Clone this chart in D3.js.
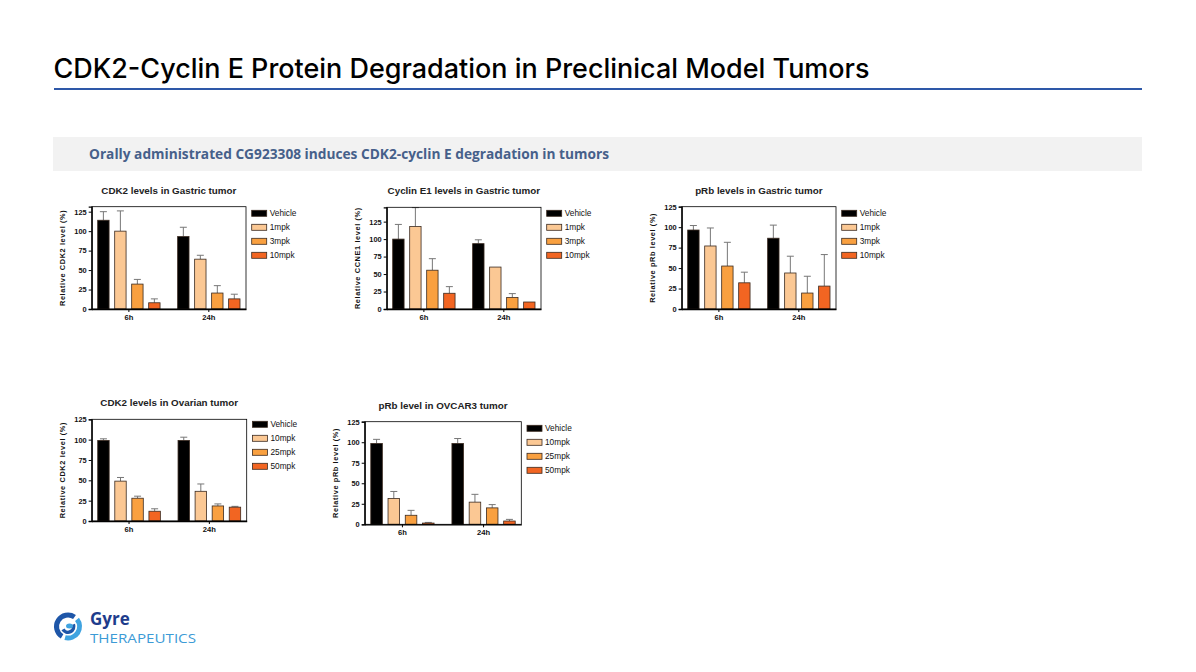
<!DOCTYPE html>
<html>
<head>
<meta charset="utf-8">
<script src="https://cdn.jsdelivr.net/npm/d3@7"></script>
<style>
  body { margin: 0; background: #fff; }
  svg { display: block; }
</style>
</head>
<body>
<div id="slide"></div>
<script>
// groups and doses
var groups = ["6h", "24h"];
var gastricDoses = ["Vehicle", "1mpk", "3mpk", "10mpk"];
var ovarianDoses = ["Vehicle", "10mpk", "25mpk", "50mpk"];
var yTicks = [0, 25, 50, 75, 100, 125];

// mean values, one row per group (6h, 24h)
var cdk2GastricMean = [[114, 100, 32, 8], [93, 64, 20.5, 13]];
var cdk2GastricErr  = [[11, 26, 6, 5], [12, 5, 9.5, 6]];

var ccne1GastricMean = [[100, 118, 55.5, 22.5], [93.5, 60, 16.5, 10]];
var ccne1GastricErr  = [[21, 27, 16.5, 9.5], [5.5, 0, 5.5, 0]];

var prbGastricMean = [[96.5, 77, 52.5, 32], [86.5, 44, 19.5, 28]];
var prbGastricErr  = [[5.5, 22, 29, 13], [16, 20.5, 20.5, 38.5]];

var cdk2OvarianMean = [[99, 49, 28, 12], [99, 36.5, 18.5, 17]];
var cdk2OvarianErr  = [[2, 4.5, 2.5, 3], [4, 9, 2.5, 1]];

var prbOvcarMean = [[98.5, 31.5, 11, 1.5], [98.5, 27, 20, 4]];
var prbOvcarErr  = [[5, 8.5, 6, 0.8], [6, 9.5, 4, 2]];

var doseColors = ["#000000", "#FBC894", "#F9A040", "#F26522"];

var panels = [
  {title: "CDK2 levels in Gastric tumor", ylabel: "Relative CDK2 level (%)", doses: gastricDoses,
   mean: cdk2GastricMean, err: cdk2GastricErr, yMax: 131.4, x: 91.7, y: 206.7, w: 154.3, h: 102.3, legY: 213.3},
  {title: "Cyclin E1 levels in Gastric tumor", ylabel: "Relative CCNE1 level (%)", doses: gastricDoses,
   mean: ccne1GastricMean, err: ccne1GastricErr, yMax: 145.5, x: 386.7, y: 207.3, w: 154.3, h: 101.7, legY: 213.3},
  {title: "pRb levels in Gastric tumor", ylabel: "Relative pRb level (%)", doses: gastricDoses,
   mean: prbGastricMean, err: prbGastricErr, yMax: 125, x: 681.7, y: 206.7, w: 154.3, h: 102.3, legY: 213.3},
  {title: "CDK2 levels in Ovarian tumor", ylabel: "Relative CDK2 level (%)", doses: ovarianDoses,
   mean: cdk2OvarianMean, err: cdk2OvarianErr, yMax: 125, x: 91.7, y: 419.3, w: 155, h: 101.7, legY: 424.3},
  {title: "pRb level in OVCAR3 tumor", ylabel: "Relative pRb level (%)", doses: ovarianDoses,
   mean: prbOvcarMean, err: prbOvcarErr, yMax: 125, x: 364.7, y: 421.7, w: 156.6, h: 102.6, legY: 428.3}
];

var W = 1196, H = 672;
var svg = d3.select("#slide").append("svg")
  .attr("width", W)
  .attr("height", H);

// slide title
svg.append("text")
  .attr("x", 53.5)
  .attr("y", 78)
  .attr("textLength", 816)
  .attr("lengthAdjust", "spacingAndGlyphs")
  .style("font-family", "Inter, 'Open Sans', sans-serif")
  .style("font-size", "27px")
  .style("font-weight", 500)
  .style("fill", "#000")
  .text("CDK2-Cyclin E Protein Degradation in Preclinical Model Tumors");

svg.append("line")
  .attr("x1", 54).attr("x2", 1142).attr("y1", 89).attr("y2", 89)
  .style("stroke", "#2E58A8").style("stroke-width", 2);

// grey banner
svg.append("rect")
  .attr("x", 53).attr("y", 137).attr("width", 1089).attr("height", 34)
  .style("fill", "#F2F2F2");

svg.append("text")
  .attr("x", 89)
  .attr("y", 159)
  .attr("textLength", 520)
  .attr("lengthAdjust", "spacingAndGlyphs")
  .style("font-family", "'Open Sans', 'Noto Sans', sans-serif")
  .style("font-size", "13.5px")
  .style("font-weight", "bold")
  .style("fill", "#46608A")
  .text("Orally administrated CG923308 induces CDK2-cyclin E degradation in tumors");

var chartFont = "'Liberation Sans', Arial, sans-serif";

// charts
panels.forEach(function(p) {
  var g = svg.append("g").attr("transform", "translate(" + p.x + "," + p.y + ")");

  var y = d3.scaleLinear().domain([0, p.yMax]).range([p.h, 0]);
  var x0 = d3.scaleBand().domain(groups).range([0, p.w]).paddingInner(0.22).paddingOuter(0.075);
  var x1 = d3.scaleBand().domain(p.doses).range([0, x0.bandwidth()]).paddingInner(0.33);

  // title
  g.append("text")
    .attr("x", p.w / 2)
    .attr("y", -13)
    .attr("text-anchor", "middle")
    .style("font-family", chartFont)
    .style("font-size", "9.8px")
    .style("font-weight", "bold")
    .style("fill", "#222")
    .text(p.title);

  // bars
  var grp = g.selectAll(".grp")
    .data(groups)
    .enter()
    .append("g")
      .attr("transform", function(d) { return "translate(" + x0(d) + ",0)"; });

  grp.each(function(gname, gi) {
    var sel = d3.select(this);
    var rows = p.doses.map(function(d, i) {
      return {dose: d, i: i, v: p.mean[gi][i], e: p.err[gi][i]};
    });

    // error bars (upper only)
    sel.selectAll("line.err")
      .data(rows.filter(function(r) { return r.e > 0; }))
      .enter()
      .append("line")
        .attr("x1", function(r) { return x1(r.dose) + x1.bandwidth() / 2; })
        .attr("x2", function(r) { return x1(r.dose) + x1.bandwidth() / 2; })
        .attr("y1", function(r) { return y(r.v); })
        .attr("y2", function(r) { return y(r.v + r.e); })
        .style("stroke", "#777").style("stroke-width", 1);

    sel.selectAll("line.cap")
      .data(rows.filter(function(r) { return r.e > 0; }))
      .enter()
      .append("line")
        .attr("x1", function(r) { return x1(r.dose) + x1.bandwidth() / 2 - 3.5; })
        .attr("x2", function(r) { return x1(r.dose) + x1.bandwidth() / 2 + 3.5; })
        .attr("y1", function(r) { return y(r.v + r.e); })
        .attr("y2", function(r) { return y(r.v + r.e); })
        .style("stroke", "#777").style("stroke-width", 1);

    sel.selectAll("rect")
      .data(rows)
      .enter()
      .append("rect")
        .attr("x", function(r) { return x1(r.dose); })
        .attr("y", function(r) { return y(r.v); })
        .attr("width", x1.bandwidth())
        .attr("height", function(r) { return p.h - y(r.v); })
        .style("fill", function(r) { return doseColors[r.i]; })
        .style("stroke", "#3a2a20")
        .style("stroke-width", 0.8);
  });

  // frame
  g.append("rect")
    .attr("width", p.w).attr("height", p.h)
    .style("fill", "none").style("stroke", "#000").style("stroke-width", 0.8);

  // y axis
  var ya = g.append("g")
    .call(d3.axisLeft(y).tickValues(yTicks).tickSize(3).tickPadding(2));
  ya.select(".domain").style("stroke-width", 1.3);
  ya.selectAll("line").style("stroke-width", 1);
  ya.selectAll("text")
    .style("font-family", chartFont)
    .style("font-size", "7.4px")
    .style("font-weight", "bold")
    .style("fill", "#111");

  // x axis
  var xa = g.append("g")
    .attr("transform", "translate(0," + p.h + ")")
    .call(d3.axisBottom(x0).tickSize(3).tickPadding(2.5).tickSizeOuter(0));
  xa.select(".domain").style("stroke-width", 1.3);
  xa.selectAll("text")
    .style("font-family", chartFont)
    .style("font-size", "7.6px")
    .style("font-weight", "bold")
    .style("fill", "#111");

  // y axis title
  g.append("text")
    .attr("transform", "translate(-27," + (p.h / 2) + ") rotate(-90)")
    .attr("text-anchor", "middle")
    .style("font-family", chartFont)
    .style("font-size", "7.4px")
    .style("font-weight", "bold")
    .style("letter-spacing", "0.6px")
    .style("fill", "#111")
    .text(p.ylabel);

  // legend
  var lg = svg.append("g")
    .attr("transform", "translate(" + (p.x + p.w + 5.7) + "," + p.legY + ")");

  lg.selectAll("rect")
    .data(p.doses)
    .enter()
    .append("rect")
      .attr("x", 0)
      .attr("y", function(d, i) { return i * 14 - 3; })
      .attr("width", 15)
      .attr("height", 6)
      .style("fill", function(d, i) { return doseColors[i]; })
      .style("stroke", "#3a2a20")
      .style("stroke-width", 0.8);

  lg.selectAll("text")
    .data(p.doses)
    .enter()
    .append("text")
      .attr("x", 18)
      .attr("y", function(d, i) { return i * 14; })
      .attr("dy", "0.35em")
      .style("font-family", chartFont)
      .style("font-size", "8.3px")
      .style("fill", "#111")
      .text(function(d) { return d; });
});

// logo
var logo = svg.append("g").attr("transform", "translate(68,626.5)");
var arc = d3.arc();
logo.append("path")
  .attr("d", arc({innerRadius: 9, outerRadius: 14, startAngle: -2.6, endAngle: 0.6}))
  .style("fill", "#1E56A8");
logo.append("path")
  .attr("d", arc({innerRadius: 9, outerRadius: 14, startAngle: 0.9, endAngle: 3.4}))
  .style("fill", "#3FA3E0");
logo.append("path")
  .attr("d", arc({innerRadius: 4, outerRadius: 7.5, startAngle: 1.2, endAngle: 4.2}))
  .style("fill", "#1E56A8");
logo.append("ellipse")
  .attr("cx", 1.5).attr("cy", -0.5).attr("rx", 3.5).attr("ry", 2.5)
  .style("fill", "#3FA3E0");

svg.append("text")
  .attr("x", 90)
  .attr("y", 625)
  .style("font-family", "'Open Sans', sans-serif")
  .style("font-size", "17px")
  .style("font-weight", "bold")
  .style("fill", "#1E3C8C")
  .text("Gyre");

svg.append("text")
  .attr("x", 90)
  .attr("y", 642.5)
  .attr("textLength", 106)
  .attr("lengthAdjust", "spacingAndGlyphs")
  .style("font-family", "'Open Sans', sans-serif")
  .style("font-size", "12px")
  .style("fill", "#3C9BD6")
  .text("THERAPEUTICS");
</script>
</body>
</html>
